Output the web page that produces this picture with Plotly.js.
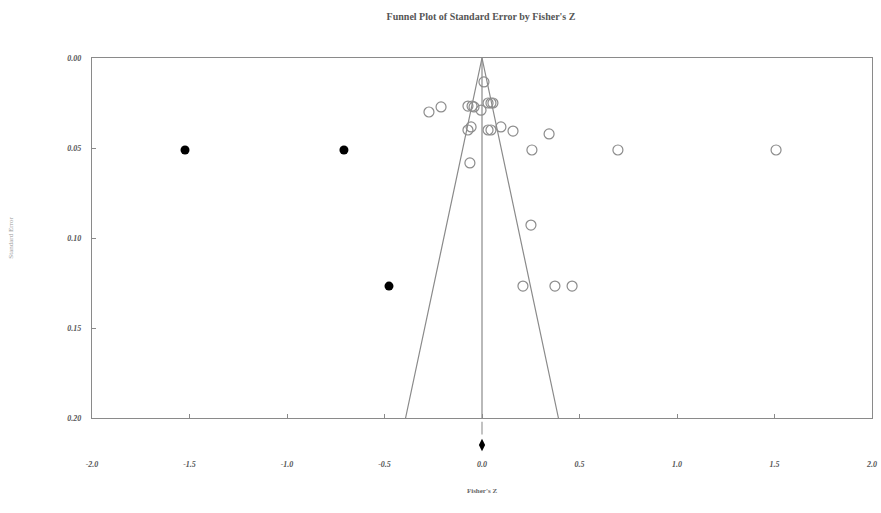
<!DOCTYPE html>
<html>
<head>
<meta charset="utf-8">
<script src="https://cdn.plot.ly/plotly-3.0.1.min.js"></script>
<style>html,body{margin:0;padding:0;background:#fff;}#chart{width:881px;height:513px;}</style>
</head>
<body>
<div id="chart"></div>
<script>
// Observed studies (open circles)
var observedZ  = [0.01, -0.272, -0.210, -0.072, -0.051, -0.041, 0.031, 0.046, 0.056, -0.005,
                  -0.072, -0.056, 0.031, 0.046, 0.097, 0.159, 0.344, 0.256, 0.697, 1.508,
                  -0.062, 0.251, 0.210, 0.374, 0.462];
var observedSE = [0.0133, 0.030, 0.0272, 0.0267, 0.0267, 0.0272, 0.025, 0.025, 0.025, 0.029,
                  0.040, 0.0383, 0.040, 0.040, 0.0383, 0.0406, 0.0422, 0.0511, 0.0511, 0.0511,
                  0.0583, 0.0928, 0.1267, 0.1267, 0.1267];
// Imputed studies (filled circles)
var imputedZ  = [-1.523, -0.708, -0.477];
var imputedSE = [0.0511, 0.0511, 0.1267];
// Funnel (95% limits) and mean line
var funnelZ  = [-0.392, 0.0, 0.392];
var funnelSE = [0.20, 0.0, 0.20];
var meanZ  = [0.0, 0.0];
var meanSE = [0.0, 0.20];
// Summary markers below axis (observed CI and adjusted estimate)
var obsSummaryZ = [0.0],  obsSummarySE = [0.2056];
var adjSummaryZ = [0.0],  adjSummarySE = [0.2150];

var xTicks = [-2.0, -1.5, -1.0, -0.5, 0.0, 0.5, 1.0, 1.5, 2.0];
var xTickLabels = ["-2.0","-1.5","-1.0","-0.5","0.0","0.5","1.0","1.5","2.0"];
var yTicks = [0.00, 0.05, 0.10, 0.15, 0.20];
var yTickLabels = ["0.00","0.05","0.10","0.15","0.20"];

var lineCol = '#8a8a8a';
var traces = [
  {x: funnelZ, y: funnelSE, mode: 'lines', line: {color: lineCol, width: 1.2}, hoverinfo: 'skip'},
  {x: meanZ, y: meanSE, mode: 'lines', line: {color: lineCol, width: 1.2}, hoverinfo: 'skip'},
  {x: observedZ, y: observedSE, mode: 'markers', cliponaxis: false,
   marker: {symbol: 'circle-open', size: 10, color: '#8c8c8c', line: {width: 1.2, color: '#8c8c8c'}}},
  {x: imputedZ, y: imputedSE, mode: 'markers', cliponaxis: false,
   marker: {symbol: 'circle', size: 9, color: '#000'}},
  {x: obsSummaryZ, y: obsSummarySE, yaxis: 'y2', mode: 'markers', cliponaxis: false,
   marker: {symbol: 'line-ns', size: 9, color: '#999', line: {width: 1.2, color: '#999'}}},
  {x: adjSummaryZ, y: adjSummarySE, yaxis: 'y2', mode: 'markers', cliponaxis: false,
   marker: {symbol: 'diamond-tall', size: 9, color: '#000'}}
];

var serif = 'Liberation Serif, DejaVu Serif, serif';
var tickFont = {family: serif, size: 8, color: '#555', style: 'italic', weight: 'bold'};
var layout = {
  width: 881, height: 513,
  margin: {l: 92, r: 9, t: 58, b: 55, autoexpand: false},
  paper_bgcolor: '#fff', plot_bgcolor: '#fff',
  showlegend: false,
  title: {text: "Funnel Plot of Standard Error by Fisher's Z", x: 0.546, xanchor: 'center', y: 0.967, yanchor: 'middle',
          font: {family: serif, size: 10, color: '#555', weight: 'bold'}},
  xaxis: {range: [-2.0, 2.0], anchor: 'y', tickvals: xTicks, ticktext: xTickLabels, ticks: 'inside', ticklen: 4,
          tickcolor: lineCol, showline: true, linecolor: lineCol, linewidth: 1.2, mirror: true,
          showgrid: false, zeroline: false, tickfont: tickFont, ticklabelstandoff: 38, automargin: false,
          title: {text: "Fisher's Z", standoff: 20, font: {family: serif, size: 7, color: '#666', weight: 'bold'}}},
  yaxis: {range: [0.20, 0.0], domain: [0.1, 1], tickvals: yTicks, ticktext: yTickLabels, ticks: 'inside', ticklen: 4,
          tickcolor: lineCol, showline: true, linecolor: lineCol, linewidth: 1.2, mirror: true,
          showgrid: false, zeroline: false, tickfont: tickFont, ticklabelstandoff: 8, automargin: false,
          title: {text: 'Standard Error', standoff: 52, font: {family: serif, size: 7, color: '#999'}}},
  yaxis2: {range: [0.2222, 0.2], domain: [0, 0.1], anchor: 'x', visible: false, showgrid: false, zeroline: false}
};
Plotly.newPlot('chart', traces, layout, {staticPlot: true, displayModeBar: false});
</script>
</body>
</html>
